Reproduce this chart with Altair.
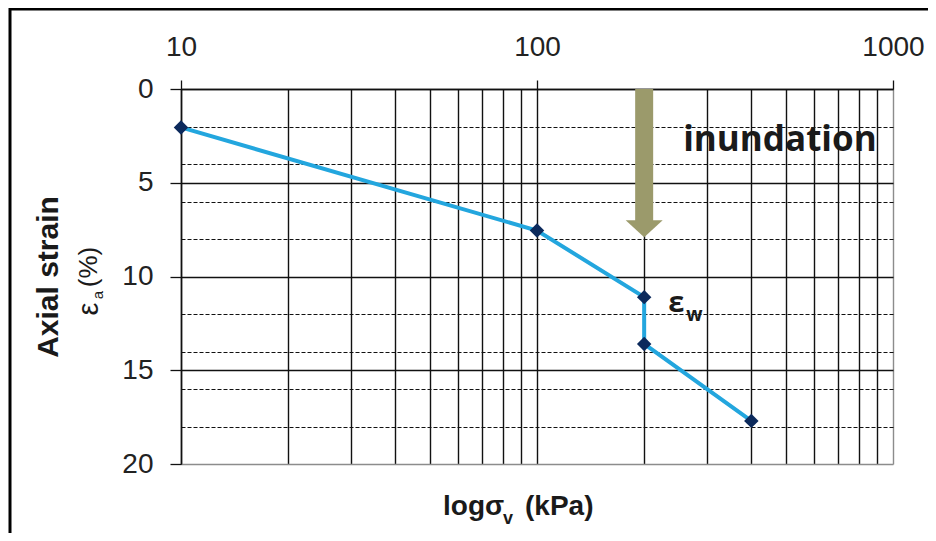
import altair as alt
import pandas as pd

# ---- data ----
sigma_kpa = [10, 100, 200, 200, 400]
strain_pct = [2.05, 7.55, 11.1, 13.6, 17.7]

x_grid_values = [10, 20, 30, 40, 50, 60, 70, 80, 90,
                 100, 200, 300, 400, 500, 600, 700, 800, 900, 1000]
x_label_values = [10, 100, 1000]
y_grid_values = [0, 2, 4, 5, 6, 8, 10, 12, 14, 15, 16, 18, 20]

arrow_sigma = [200]
arrow_start = [0]
arrow_shaft_end = [7.05]
arrow_head_mid = [7.45]

annot_sigma = [200]
annot_strain_top = [0]
annot_strain_point = [11.1]

FONT = "Liberation Sans"
BLACK = "#111111"

pts = pd.DataFrame({"sigma": sigma_kpa, "strain": strain_pct,
                    "order": list(range(len(sigma_kpa)))})
arrow_df = pd.DataFrame({"sigma": arrow_sigma, "s0": arrow_start,
                         "s1": arrow_shaft_end, "head": arrow_head_mid})
annot_df = pd.DataFrame({"sigma": annot_sigma, "top": annot_strain_top,
                         "pt": annot_strain_point})

xscale = alt.Scale(type="log", domain=[10, 1000], nice=False)
yscale = alt.Scale(domain=[0, 20], reverse=True, nice=False, zero=False)

major_x_test = "indexof([10, 100, 1000], datum.value) >= 0"

x_axis = alt.Axis(
    orient="top", values=x_grid_values, title=None, format="d",
    labelExpr="indexof([10, 100, 1000], datum.value) >= 0 ? format(datum.value, 'd') : ''",
    labelOverlap=False, labelFlush=False,
    labelFont=FONT, labelFontSize=28, labelColor="#222222", labelPadding=19,
    tickSize=9, tickWidth=1.3,
    tickColor={"condition": {"test": major_x_test, "value": BLACK}, "value": "transparent"},
    domain=True, domainColor=BLACK, domainWidth=1.5,
    grid=True, gridWidth=1.4,
    gridColor={"condition": {"test": "datum.value == 1000", "value": "#8c8c8c"}, "value": BLACK},
)

y_axis = alt.Axis(
    orient="left", values=y_grid_values, title=None, format="d",
    labelExpr="datum.value % 5 == 0 ? format(datum.value, 'd') : ''",
    labelOverlap=False, labelFlush=False,
    labelFont=FONT, labelFontSize=28, labelColor="#222222", labelPadding=17,
    tickSize=11, tickWidth=1.3,
    tickColor={"condition": {"test": "datum.value % 5 == 0", "value": BLACK}, "value": "transparent"},
    domain=True, domainColor=BLACK, domainWidth=1.5,
    grid=True,
    gridDash={"condition": {"test": "datum.value % 5 == 0", "value": []}, "value": [4, 2]},
    gridWidth={"condition": {"test": "datum.value % 5 == 0", "value": 1.4}, "value": 1.1},
    gridColor={"condition": {"test": "datum.value == 20", "value": "#8c8c8c"}, "value": BLACK},
)


def X(field):
    return alt.X(field, type="quantitative", scale=xscale, axis=x_axis)


def Y(field):
    return alt.Y(field, type="quantitative", scale=yscale, axis=y_axis)


line = alt.Chart(pts).mark_line(color="#23a6de", strokeWidth=4).encode(
    x=X("sigma"), y=Y("strain"), order="order:Q")

points = alt.Chart(pts).mark_point(
    shape="diamond", filled=True, size=210, color="#0c2a5c", opacity=1
).encode(x=X("sigma"), y=Y("strain"))

ARROW = "#9b9a6b"
shaft = alt.Chart(arrow_df).mark_rule(color=ARROW, strokeWidth=18).encode(
    x=X("sigma"), y=Y("s0"), y2="s1")
head = alt.Chart(arrow_df).mark_point(
    shape="M -1 -0.46 L 1 -0.46 L 0 0.46 Z", size=37 * 37, filled=True,
    color=ARROW, opacity=1
).encode(x=X("sigma"), y=Y("head"))

inund = alt.Chart(annot_df).mark_text(
    text="inundation", font="Open Sans", fontWeight="bold", fontSize=35,
    color="#1a1a1a", align="left", baseline="alphabetic", dx=39, dy=62
).encode(x=X("sigma"), y=Y("top"))

eps_w = alt.Chart(annot_df).mark_text(
    text="ε", font="Open Sans", fontWeight="bold", fontSize=29,
    color="#1a1a1a", align="left", baseline="alphabetic", dx=24, dy=15
).encode(x=X("sigma"), y=Y("pt"))
eps_w_sub = alt.Chart(annot_df).mark_text(
    text="w", font="Open Sans", fontWeight="bold", fontSize=19,
    color="#1a1a1a", align="left", baseline="alphabetic", dx=42, dy=24
).encode(x=X("sigma"), y=Y("pt"))

one = pd.DataFrame({"k": [0]})


def ptext(txt, x, y, size, bold=False, angle=0, align="left", baseline="alphabetic"):
    return alt.Chart(one).mark_text(
        text=txt, font=FONT, fontSize=size, fontWeight="bold" if bold else "normal",
        color="#1a1a1a", angle=angle, align=align, baseline=baseline
    ).encode(x=alt.value(x), y=alt.value(y))


# axis titles (pixel offsets relative to the plot area)
ytitle1 = ptext("Axial strain", -132, 188, 30, bold=True, angle=270,
                align="center", baseline="middle")
ytitle_eps = ptext("ε", -92, 220, 29, angle=270, align="center", baseline="middle")
ytitle_sub = ptext("a", -83, 206, 15, angle=270, align="center", baseline="middle")
ytitle_pct = ptext("(%)", -92, 178, 26, angle=270, align="center", baseline="middle")

xtitle1 = ptext("logσ", 262, 426, 28, bold=True)
xtitle_sub = ptext("v", 322, 435, 18, bold=True)
xtitle2 = ptext("(kPa)", 344, 426, 28, bold=True)

# outer frame
frame_top = alt.Chart(one).mark_rule(color="#000000", strokeWidth=3).encode(
    x=alt.value(-172), x2=alt.value(760), y=alt.value(-80))
frame_left = alt.Chart(one).mark_rule(color="#000000", strokeWidth=3).encode(
    x=alt.value(-171), y=alt.value(-81), y2=alt.value(470))

chart = alt.layer(
    shaft, head, line, points, inund, eps_w, eps_w_sub,
    ytitle1, ytitle_eps, ytitle_sub, ytitle_pct,
    xtitle1, xtitle_sub, xtitle2, frame_top, frame_left
).properties(
    width=712, height=375,
    padding={"left": 173, "top": 81, "right": 35, "bottom": 69},
    autosize=alt.AutoSizeParams(type="none"),
    background="white",
).configure_view(stroke=None)

chart.save("out.html", embed_options={"renderer": "svg", "actions": False})
